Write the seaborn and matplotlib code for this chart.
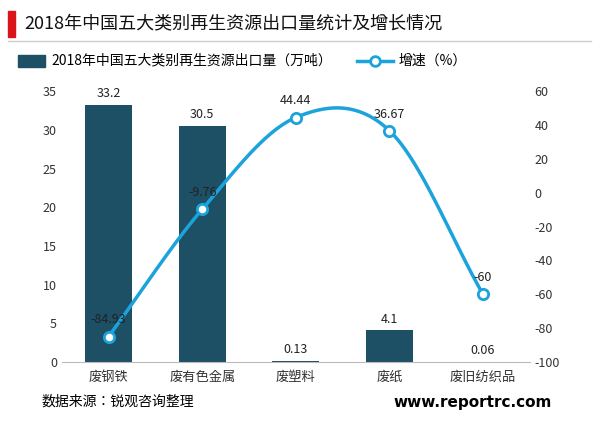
import numpy as np
import pandas as pd
import matplotlib as mpl
import matplotlib.pyplot as plt
import seaborn as sns

mpl.rcParams['font.family'] = 'sans-serif'
mpl.rcParams['font.sans-serif'] = ['Noto Sans CJK SC', 'Noto Sans CJK JP', 'DejaVu Sans']
mpl.rcParams['axes.unicode_minus'] = False

categories = ['废钢铁', '废有色金属', '废塑料', '废纸', '废旧纺织品']
volume = [33.2, 30.5, 0.13, 4.1, 0.06]
growth = [-84.93, -9.76, 44.44, 36.67, -60]
vol_labels = ['33.2', '30.5', '0.13', '4.1', '0.06']
growth_labels = ['-84.93', '-9.76', '44.44', '36.67', '-60']

bar_color = '#1d4f65'
line_color = '#1ca3dc'

df = pd.DataFrame({'cat': categories, 'vol': volume})

fig = plt.figure(figsize=(6, 4.3), dpi=100)
ax = fig.add_axes([0.103, 0.158, 0.78, 0.63])
sns.barplot(data=df, x='cat', y='vol', color=bar_color, width=0.5, ax=ax,
            saturation=1)
ax.set_ylim(0, 35)
ax.set_yticks(range(0, 36, 5))
ax.set_xlabel('')
ax.set_ylabel('')
for i, (v, t) in enumerate(zip(volume, vol_labels)):
    ax.text(i, v + 0.6, t, ha='center', va='bottom', fontsize=9, color='#222222')

ax2 = ax.twinx()
x = np.arange(len(growth), dtype=float)
y = np.array(growth, dtype=float)
# Catmull-Rom smoothing of the path between points
px = np.concatenate([[2 * x[0] - x[1]], x, [2 * x[-1] - x[-2]]])
py = np.concatenate([[2 * y[0] - y[1]], y, [2 * y[-1] - y[-2]]])
sx, sy = [], []
t = np.linspace(0, 1, 30)
for k in range(1, len(px) - 2):
    p0, p1, p2, p3 = [np.array([px[j], py[j]]) for j in range(k - 1, k + 3)]
    seg = 0.5 * ((2 * p1)[:, None] + (-p0 + p2)[:, None] * t
                 + (2 * p0 - 5 * p1 + 4 * p2 - p3)[:, None] * t ** 2
                 + (-p0 + 3 * p1 - 3 * p2 + p3)[:, None] * t ** 3)
    sx.extend(seg[0]); sy.extend(seg[1])
ax2.plot(sx, sy, color=line_color, lw=2.5, zorder=3)
ax2.scatter(x, y, s=55, facecolor='white', edgecolor=line_color, lw=2, zorder=4)
ax2.set_ylim(-100, 60)
ax2.set_yticks(range(-100, 61, 20))
for i, (v, t_) in enumerate(zip(growth, growth_labels)):
    ax2.text(i, v + 6, t_, ha='center', va='bottom', fontsize=9, color='#222222')

for a in (ax, ax2):
    for s in a.spines.values():
        s.set_visible(False)
    a.tick_params(length=0, labelsize=9, colors='#333333')
ax.spines['bottom'].set_visible(True)
ax.spines['bottom'].set_color('#bbbbbb')
ax.set_xlim(-0.5, 4.5)
ax.tick_params(axis='x', labelsize=9.5, pad=6)

# title area
fig.patches.append(mpl.patches.Rectangle((0.013, 0.915), 0.012, 0.06,
                   transform=fig.transFigure, color='#d9141b'))
fig.text(0.04, 0.945, '2018年中国五大类别再生资源出口量统计及增长情况',
         fontsize=13, va='center', color='#111111')
fig.add_artist(mpl.lines.Line2D([0.013, 0.985], [0.905, 0.905], color='#cccccc', lw=1))

# legend
fig.patches.append(mpl.patches.Rectangle((0.03, 0.845), 0.045, 0.028,
                   transform=fig.transFigure, color=bar_color))
fig.text(0.085, 0.859, '2018年中国五大类别再生资源出口量（万吨）', fontsize=10, va='center')
fig.add_artist(mpl.lines.Line2D([0.595, 0.655], [0.859, 0.859], color=line_color, lw=2.5))
fig.add_artist(mpl.lines.Line2D([0.625], [0.859], marker='o', markersize=7,
               markerfacecolor='white', markeredgecolor=line_color, mew=2))
fig.text(0.665, 0.859, '增速（%）', fontsize=10, va='center')

fig.text(0.07, 0.065, '数据来源：锐观咨询整理', fontsize=10, va='center')
fig.text(0.655, 0.065, 'www.reportrc.com', fontsize=11, va='center',
         fontweight='bold', family='DejaVu Sans')

fig.savefig('out.png', dpi=100)
